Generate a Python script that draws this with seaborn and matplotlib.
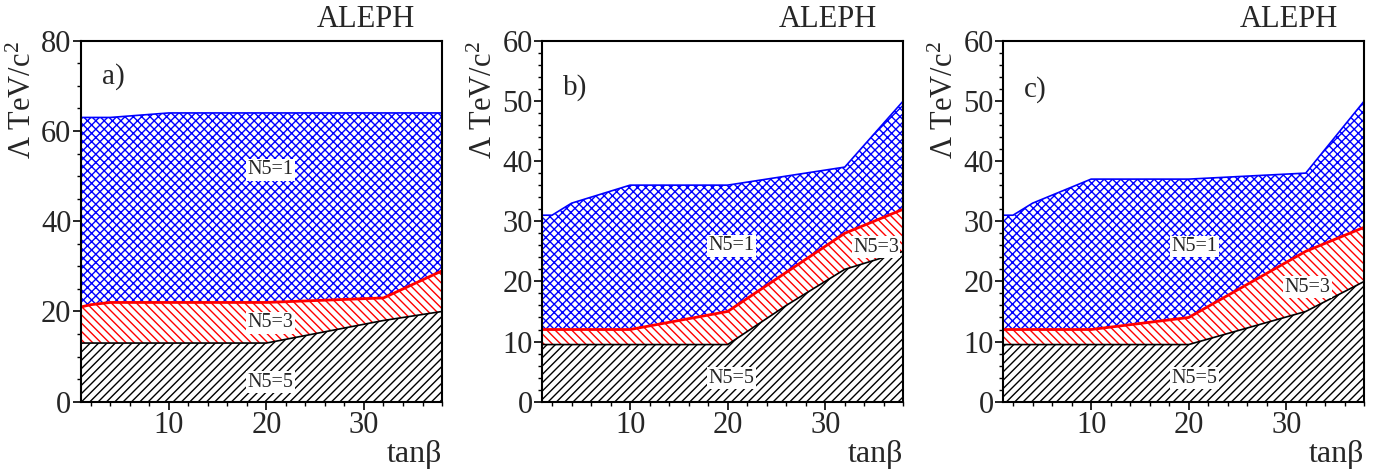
# ALEPH GMSB limits: Lambda vs tan(beta) for N5 = 1, 3, 5
# three panels a), b), c) with hatched exclusion bands

import numpy as np
import pandas as pd
import matplotlib
matplotlib.use('Agg')
import matplotlib.pyplot as plt
import seaborn as sns
from matplotlib.ticker import MultipleLocator

tanb = [1, 2, 4, 10, 20, 26, 32, 38]

# panel a)
a_n1 = [63, 63, 63, 64, 64, 64, 64, 64]
a_n3 = [21, 21.5, 22, 22, 22, 22.5, 23, 29]
a_n5 = [13, 13, 13, 13, 13, 15.5, 18, 20]

# panel b)
b_n1 = [31, 31, 33, 36, 36, 37.5, 39, 50]
b_n3 = [12, 12, 12, 12, 15, 21.5, 28, 32]
b_n5 = [9.5, 9.5, 9.5, 9.5, 9.5, 16, 22, 25]

# panel c)
c_n1 = [31, 31, 33, 37, 37, 37.5, 38, 50]
c_n3 = [12, 12, 12, 12, 14, 19.5, 25, 29]
c_n5 = [9.5, 9.5, 9.5, 9.5, 9.5, 12.25, 15, 20]

tags = ['a)', 'b)', 'c)']
band_names = ['N5=1', 'N5=3', 'N5=5']

sns.set_theme(style='ticks')
plt.rcParams['font.family'] = ['Liberation Serif', 'DejaVu Serif']
plt.rcParams['mathtext.fontset'] = 'custom'
plt.rcParams['mathtext.rm'] = 'Liberation Serif'
plt.rcParams['mathtext.it'] = 'Liberation Serif:italic'
plt.rcParams['hatch.linewidth'] = 1.0

panels = [
    dict(n1=a_n1, n3=a_n3, n5=a_n5, ymax=80, major=20, minor=5,
         lab=[(20.4, 51.4), (20.4, 17.5), (20.4, 4.3)], tag_y=0.90),
    dict(n1=b_n1, n3=b_n3, n5=b_n5, ymax=60, major=10, minor=2,
         lab=[(20.4, 25.9), (35.2, 25.7), (20.4, 3.9)], tag_y=0.87),
    dict(n1=c_n1, n3=c_n3, n5=c_n5, ymax=60, major=10, minor=2,
         lab=[(20.6, 25.8), (32.2, 19.0), (20.6, 3.9)], tag_y=0.865),
]
lefts = [0.0581, 0.3890, 0.7197]

fig = plt.figure(figsize=(13.94, 4.70), dpi=100)

for i, p in enumerate(panels):
    ax = fig.add_axes([lefts[i], 0.1453, 0.2590, 0.768])
    df = pd.DataFrame({'tanb': tanb, 'n1': p['n1'], 'n3': p['n3'], 'n5': p['n5']})

    # hatched bands
    ax.fill_between(df['tanb'], 0, df['n5'], facecolor='none', edgecolor='black',
                    hatch='////', linewidth=0)
    ax.fill_between(df['tanb'], df['n5'], df['n3'], facecolor='none', edgecolor='red',
                    hatch='\\\\\\\\', linewidth=0)
    ax.fill_between(df['tanb'], df['n3'], df['n1'], facecolor='none', edgecolor='blue',
                    hatch='xxxx', linewidth=0)

    # band edges
    sns.lineplot(data=df, x='tanb', y='n1', color='blue', lw=1.2, ax=ax)
    sns.lineplot(data=df, x='tanb', y='n3', color='red', lw=2.0, ax=ax)
    sns.lineplot(data=df, x='tanb', y='n5', color='black', lw=1.2, ax=ax)

    for name, (lx, ly) in zip(band_names, p['lab']):
        ax.text(lx, ly, name, ha='center', va='center', fontsize=14.5,
                bbox=dict(facecolor='white', edgecolor='none', pad=1.0))

    ax.set_xlim(1, 38)
    ax.set_ylim(0, p['ymax'])
    ax.xaxis.set_major_locator(MultipleLocator(10))
    ax.xaxis.set_minor_locator(MultipleLocator(2))
    ax.yaxis.set_major_locator(MultipleLocator(p['major']))
    ax.yaxis.set_minor_locator(MultipleLocator(p['minor']))
    ax.tick_params(which='major', direction='out', length=6, width=1.2,
                   labelsize=22, pad=1, color='black')
    ax.tick_params(which='minor', direction='out', length=3, width=1.0, color='black')
    for s in ax.spines.values():
        s.set_visible(True)
        s.set_linewidth(1.5)
        s.set_color('black')

    ax.set_xlabel('tanβ', fontsize=23, loc='right', labelpad=0)
    ax.set_ylabel('Λ TeV/c$^{2}$', fontsize=22, loc='top', labelpad=2)

    ax.text(0.057, p['tag_y'], tags[i], transform=ax.transAxes, fontsize=21, va='center')
    ax.text(0.79, 1.06, 'ALEPH', transform=ax.transAxes, ha='center', va='center',
            fontsize=22)

fig.savefig('out.png', dpi=100)
